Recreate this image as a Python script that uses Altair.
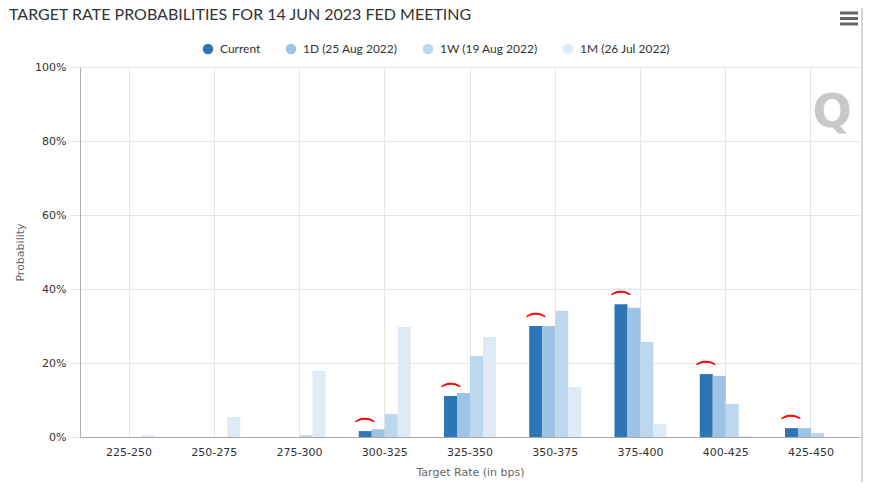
import altair as alt
import pandas as pd

rates = ["225-250", "250-275", "275-300", "300-325", "325-350",
         "350-375", "375-400", "400-425", "425-450"]
series = ["Current", "1D (25 Aug 2022)", "1W (19 Aug 2022)", "1M (26 Jul 2022)"]
colors = ["#2e75b6", "#9dc3e6", "#bdd7ee", "#deebf7"]

current = [0.0, 0.0, 0.0, 1.6, 11.1, 30.0, 35.9, 17.0, 2.4]
d1 = [0.0, 0.0, 0.0, 2.1, 11.9, 30.0, 34.9, 16.5, 2.4]
w1 = [0.0, 0.0, 0.5, 6.2, 21.9, 34.1, 25.7, 8.9, 1.1]
m1 = [0.5, 5.4, 17.9, 29.7, 27.0, 13.5, 3.5, 0.3, 0.0]

title_text = "TARGET RATE PROBABILITIES FOR 14 JUN 2023 FED MEETING"

# hand-drawn red marks sit above these "Current" bars
marked = ["300-325", "325-350", "350-375", "375-400", "400-425", "425-450"]

rows = []
for s, vals in zip(series, [current, d1, w1, m1]):
    for r, v in zip(rates, vals):
        rows.append({"rate": r, "series": s, "prob": v})
df = pd.DataFrame(rows)

mark_df = pd.DataFrame({"rate": marked,
                        "series": ["Current"] * len(marked),
                        "prob": [current[rates.index(r)] for r in marked]})

AXIS_FONT = "DejaVu Sans"
UI_FONT = "Lato"

x_enc = alt.X("rate:N", sort=rates,
              scale=alt.Scale(domain=rates, paddingInner=0.39, paddingOuter=0.27),
              axis=alt.Axis(title="Target Rate (in bps)", labelAngle=0, ticks=False,
                            grid=True, gridColor="#e6e6e6", domainColor="#a8a8a8",
                            labelFont=AXIS_FONT, labelFontSize=11, labelColor="#333333",
                            labelPadding=9, titleFont=AXIS_FONT, titleFontSize=11,
                            titleColor="#666666", titleFontWeight="normal",
                            titlePadding=9))
xoff_enc = alt.XOffset("series:N", sort=series,
                       scale=alt.Scale(domain=series, paddingInner=0, paddingOuter=0))
y_enc = alt.Y("prob:Q", scale=alt.Scale(domain=[0, 100]),
              axis=alt.Axis(title="Probability", values=[0, 20, 40, 60, 80, 100],
                            labelExpr="datum.value + '%'", grid=True,
                            gridColor="#e6e6e6", tickColor="#e6e6e6", tickSize=10,
                            domainColor="#b0b0b0", labelFont=AXIS_FONT,
                            labelFontSize=11, labelColor="#333333", labelPadding=4,
                            titleFont=AXIS_FONT, titleFontSize=11,
                            titleColor="#666666", titleFontWeight="normal",
                            titlePadding=9))

bars = alt.Chart(df).mark_bar().encode(
    x=x_enc,
    xOffset=xoff_enc,
    y=y_enc,
    color=alt.Color("series:N", sort=series,
                    scale=alt.Scale(domain=series, range=colors),
                    legend=alt.Legend(title=None, orient="none", direction="horizontal",
                                      columns=4, legendX=122, legendY=-24,
                                      symbolType="circle", symbolSize=110,
                                      symbolStrokeWidth=0, columnPadding=24,
                                      labelFont=UI_FONT, labelFontSize=12,
                                      labelColor="#333333", labelOffset=6)),
)

arcs = alt.Chart(mark_df).mark_text(text="⌒", color="#ff0000", fontSize=22,
                                    baseline="bottom", dy=10, font=AXIS_FONT,
                                    stroke="#ff0000", strokeWidth=0.9).encode(
    x=alt.X("rate:N", sort=rates),
    xOffset=alt.XOffset("series:N", sort=series),
    y="prob:Q",
)

one = pd.DataFrame({"k": [0]})
title = alt.Chart(one).mark_text(text=title_text, align="left", baseline="alphabetic",
                                 font=UI_FONT, fontSize=16, color="#333333").encode(
    x=alt.value(-71), y=alt.value(-47))
logo = alt.Chart(one).mark_text(text="Q", color="#c8c8c8", fontSize=46,
                                fontWeight="bold", font=AXIS_FONT).encode(
    x=alt.value(752), y=alt.value(46))
burgers = [alt.Chart(one).mark_rule(color="#666666", strokeWidth=3).encode(
    x=alt.value(760), x2=alt.value(778), y=alt.value(yv)) for yv in [-54, -48.5, -43]]
border = alt.Chart(one).mark_rule(color="#b0b0b0", strokeWidth=1).encode(
    x=alt.value(782), y=alt.value(-59), y2=alt.value(415))

chart = alt.layer(bars, arcs, title, logo, border, *burgers).properties(
    width=780, height=370,
    autosize=alt.AutoSizeParams(type="none"),
    padding={"left": 72, "top": 59, "right": 3, "bottom": 45},
).configure_view(stroke=None)

chart.save("out.html", embed_options={"renderer": "svg", "actions": False})
